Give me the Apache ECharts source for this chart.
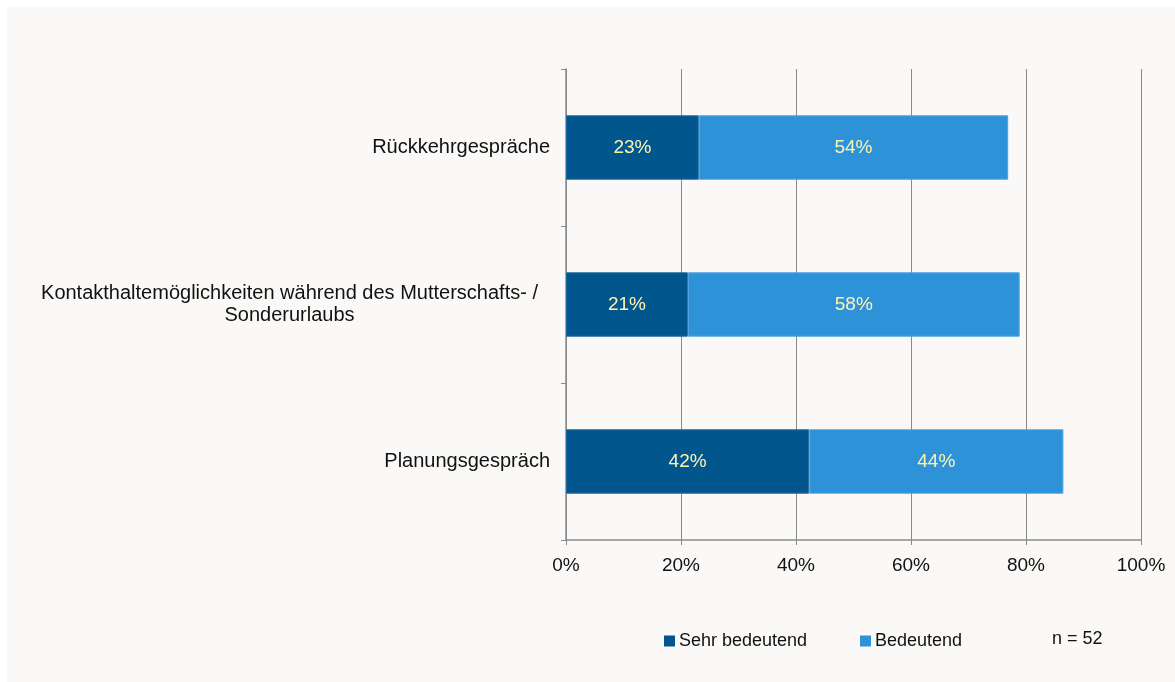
<!DOCTYPE html>
<html>
<head>
<meta charset="utf-8">
<script src="https://cdn.jsdelivr.net/npm/echarts@6/dist/echarts.min.js"></script>
<style>
  html, body { margin: 0; padding: 0; background: #ffffff; overflow: hidden; }
  #bg { position: absolute; left: 7px; top: 7px; width: 1168px; height: 675px; background: #FAF9F7; }
  #chart { position: absolute; left: 0; top: 0; width: 1175px; height: 682px; }
</style>
</head>
<body>
<div id="bg"></div>
<div id="chart"></div>
<script>
const categories = [
  'Rückkehrgespräche',
  'Kontakthaltemöglichkeiten während des Mutterschafts- /\nSonderurlaubs',
  'Planungsgespräch'
];
const sehrBedeutend = [23.1, 21.2, 42.3];
const bedeutend = [53.8, 57.7, 44.2];
const xTicks = [0, 20, 40, 60, 80, 100];
const seriesNames = ['Sehr bedeutend', 'Bedeutend'];
const sampleNote = 'n = 52';

const FONT = "'Liberation Sans', Arial, sans-serif";
const chart = echarts.init(document.getElementById('chart'));

const catFormatter = function (v) {
  if (v.indexOf('\n') >= 0) {
    return v.split('\n').map(l => '{c|' + l + '}').join('\n');
  }
  return v;
};

const labelStyle = {
  show: true,
  position: 'inside',
  formatter: p => Math.round(p.value) + '%',
  color: '#FFF3B0',
  fontSize: 19,
  fontFamily: FONT
};

chart.setOption({
  animation: false,
  backgroundColor: 'transparent',
  textStyle: { fontFamily: FONT },
  grid: { left: 566, right: 34, top: 69, bottom: 142, containLabel: false },
  xAxis: {
    type: 'value',
    min: xTicks[0],
    max: xTicks[xTicks.length - 1],
    interval: 20,
    axisLine: { show: true, lineStyle: { color: '#8A8A8A', width: 1.5 } },
    axisTick: { show: true, length: 5, lineStyle: { color: '#8A8A8A' } },
    splitLine: { show: true, lineStyle: { color: '#8A8A8A', width: 1 } },
    axisLabel: {
      formatter: '{value}%', color: '#111', fontSize: 19, fontFamily: FONT, margin: 16
    }
  },
  yAxis: {
    type: 'category',
    inverse: true,
    data: categories,
    axisLine: { show: true, lineStyle: { color: '#8A8A8A', width: 1.5 } },
    axisTick: { show: true, length: 5, lineStyle: { color: '#8A8A8A' } },
    axisLabel: {
      color: '#111', fontSize: 20, fontFamily: FONT, margin: 16, align: 'right',
      lineHeight: 22,
      formatter: catFormatter,
      rich: {
        c: { width: 521, align: 'center', fontSize: 20, fontFamily: FONT, color: '#111', lineHeight: 22 }
      }
    }
  },
  legend: [
    {
      data: [seriesNames[0]],
      left: 659, top: 627,
      icon: 'rect', itemWidth: 11, itemHeight: 11, itemGap: 4,
      itemStyle: { borderWidth: 0 },
      textStyle: { fontSize: 18, color: '#111', fontFamily: FONT, padding: [0, 0, 0, -1] }
    },
    {
      data: [seriesNames[1]],
      left: 855, top: 627,
      icon: 'rect', itemWidth: 11, itemHeight: 11, itemGap: 4,
      itemStyle: { borderWidth: 0 },
      textStyle: { fontSize: 18, color: '#111', fontFamily: FONT, padding: [0, 0, 0, -1] }
    }
  ],
  graphic: [
    {
      type: 'text', left: 1052, top: 630,
      style: { text: sampleNote, fontSize: 18, fill: '#111', fontFamily: FONT }
    }
  ],
  series: [
    {
      name: seriesNames[0],
      type: 'bar',
      stack: 'total',
      barWidth: '41%',
      data: sehrBedeutend,
      itemStyle: { color: '#00568D', borderColor: '#1F6A9C', borderWidth: 1 },
      label: labelStyle
    },
    {
      name: seriesNames[1],
      type: 'bar',
      stack: 'total',
      barWidth: '41%',
      data: bedeutend,
      itemStyle: { color: '#2E92D8', borderColor: '#4AA3E2', borderWidth: 1 },
      label: labelStyle
    }
  ]
});
</script>
</body>
</html>
